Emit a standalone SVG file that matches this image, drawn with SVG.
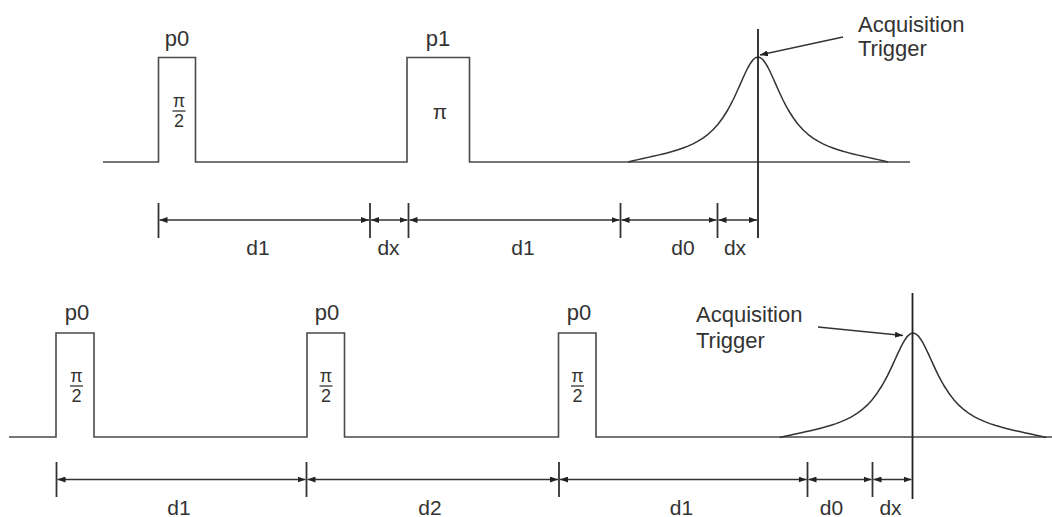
<svg xmlns="http://www.w3.org/2000/svg" width="1052" height="517" viewBox="0 0 1052 517">
<style>
.bg{fill:#ffffff}
.wave{fill:none;stroke:#4a4a4a;stroke-width:1.6}
.curve{fill:none;stroke:#333;stroke-width:1.5;stroke-linejoin:round}
.vline{stroke:#222;stroke-width:1.8}
.tick{stroke:#333;stroke-width:1.8}
.dim{stroke:#333;stroke-width:1.5;fill:none}
.lbl{font-family:"Liberation Sans",Arial,sans-serif;font-size:22px;fill:#333;text-anchor:middle}
.dl{font-family:"Liberation Sans",Arial,sans-serif;font-size:21px;fill:#333;text-anchor:middle}
.frac{font-family:"Liberation Sans",Arial,sans-serif;font-size:18px;fill:#333;text-anchor:middle}
.pi{font-family:"Liberation Sans",Arial,sans-serif;font-size:21px;fill:#333;text-anchor:middle}
.acq{font-family:"Liberation Sans",Arial,sans-serif;font-size:22px;fill:#333}
.bar{stroke:#333;stroke-width:1.3}
</style>
<defs>
<marker id="ah" viewBox="0 0 8 6" refX="8" refY="3" markerWidth="8" markerHeight="6" markerUnits="userSpaceOnUse" orient="auto-start-reverse">
<path d="M0,0 L8,3 L0,6 z" fill="#222"/>
</marker>
<polyline id="peak" points="-130,0 -125,-1.2 -120,-2.36 -115,-3.48 -110,-4.61 -105,-5.72 -100,-6.88 -95,-8.07 -90,-9.35 -85,-10.72 -80,-12.24 -75,-13.95 -70,-15.9 -65,-18.15 -60,-20.8 -55,-23.9 -50,-27.7 -45,-32.25 -40,-37.77 -35,-44.5 -30,-52.5 -27.5,-57.1 -25,-62 -22.5,-67.2 -20,-72.7 -17.5,-78.4 -15,-84 -12.5,-89.5 -10,-94.5 -7.5,-98.8 -5,-102.2 -2.5,-104.3 0,-105 2.5,-104.3 5,-102.2 7.5,-98.8 10,-94.5 12.5,-89.5 15,-84 17.5,-78.4 20,-72.7 22.5,-67.2 25,-62 27.5,-57.1 30,-52.5 35,-44.5 40,-37.77 45,-32.25 50,-27.7 55,-23.9 60,-20.8 65,-18.15 70,-15.9 75,-13.95 80,-12.24 85,-10.72 90,-9.35 95,-8.07 100,-6.88 105,-5.72 110,-4.61 115,-3.48 120,-2.36 125,-1.2 130,0"/>
</defs>
<rect class="bg" x="0" y="0" width="1052" height="517"/>

<g id="top-sequence">
<path class="wave" d="M103,162 H158.5 V57.5 H195.5 V162 H407 V57.5 H469.5 V162 H910"/>
<use href="#peak" class="curve" transform="translate(758,162)"/>
<line class="vline" x1="758" y1="29" x2="758" y2="238"/>
</g>

<g id="top-p0">
<text class="lbl" x="177" y="45.5">p0</text>
<text class="frac" x="179" y="106.5">π</text>
<text class="frac" x="179" y="126.8">2</text>
<line class="bar" x1="172.5" y1="111" x2="185.5" y2="111"/>
</g>
<g id="top-p1">
<text class="lbl" x="438" y="45.5">p1</text>
<text class="pi" x="440" y="118.5">π</text>
</g>
<g id="top-trigger">
<text class="acq" x="858" y="31.5">Acquisition</text>
<text class="acq" x="858" y="56">Trigger</text>
</g>

<g id="bottom-sequence">
<path class="wave" d="M9,437 H56 V333 H94 V437 H307 V333 H344.5 V437 H558.5 V333 H596 V437 H1052"/>
<use href="#peak" class="curve" transform="translate(913,437.5) scale(1.025,0.995)"/>
<line class="vline" x1="912.5" y1="293" x2="912.5" y2="499"/>
</g>
<g id="bottom-p0a">
<text class="lbl" x="77" y="320">p0</text>
<text class="frac" x="76.5" y="381.5">π</text>
<text class="frac" x="76.5" y="401.8">2</text>
<line class="bar" x1="70" y1="386" x2="83" y2="386"/>
</g>
<g id="bottom-p0b">
<text class="lbl" x="327" y="320">p0</text>
<text class="frac" x="326" y="381.5">π</text>
<text class="frac" x="326" y="401.8">2</text>
<line class="bar" x1="319.5" y1="386" x2="332.5" y2="386"/>
</g>
<g id="bottom-p0c">
<text class="lbl" x="579" y="320">p0</text>
<text class="frac" x="577.5" y="381.5">π</text>
<text class="frac" x="577.5" y="401.8">2</text>
<line class="bar" x1="571" y1="386" x2="584" y2="386"/>
</g>
<g id="bottom-trigger">
<text class="acq" x="696" y="322">Acquisition</text>
<text class="acq" x="696" y="348">Trigger</text>
</g>

<g id="connectors">
<line class="dim" x1="843" y1="37" x2="760" y2="55" marker-end="url(#ah)"/>
<line class="dim" x1="818" y1="327" x2="903" y2="335.5" marker-end="url(#ah)"/>
<line class="tick" x1="158.5" y1="203" x2="158.5" y2="238"/>
<line class="tick" x1="370" y1="203" x2="370" y2="238"/>
<line class="tick" x1="408.5" y1="203" x2="408.5" y2="238"/>
<line class="tick" x1="620.5" y1="203" x2="620.5" y2="238"/>
<line class="tick" x1="717.5" y1="203" x2="717.5" y2="238"/>
<line class="dim" x1="159.5" y1="220" x2="369" y2="220" marker-start="url(#ah)" marker-end="url(#ah)"/>
<line class="dim" x1="371" y1="220" x2="407.5" y2="220" marker-start="url(#ah)" marker-end="url(#ah)"/>
<line class="dim" x1="409.5" y1="220" x2="619.5" y2="220" marker-start="url(#ah)" marker-end="url(#ah)"/>
<line class="dim" x1="621.5" y1="220" x2="716.5" y2="220" marker-start="url(#ah)" marker-end="url(#ah)"/>
<line class="dim" x1="718.5" y1="220" x2="757" y2="220" marker-start="url(#ah)" marker-end="url(#ah)"/>
<line class="tick" x1="56.5" y1="462" x2="56.5" y2="497"/>
<line class="tick" x1="306.5" y1="462" x2="306.5" y2="497"/>
<line class="tick" x1="559" y1="462" x2="559" y2="497"/>
<line class="tick" x1="807.5" y1="462" x2="807.5" y2="497"/>
<line class="tick" x1="872.5" y1="462" x2="872.5" y2="497"/>
<line class="dim" x1="57.5" y1="479.5" x2="305.5" y2="479.5" marker-start="url(#ah)" marker-end="url(#ah)"/>
<line class="dim" x1="307.5" y1="479.5" x2="558" y2="479.5" marker-start="url(#ah)" marker-end="url(#ah)"/>
<line class="dim" x1="560" y1="479.5" x2="806.5" y2="479.5" marker-start="url(#ah)" marker-end="url(#ah)"/>
<line class="dim" x1="808.5" y1="479.5" x2="871.5" y2="479.5" marker-start="url(#ah)" marker-end="url(#ah)"/>
<line class="dim" x1="873.5" y1="479.5" x2="911.5" y2="479.5" marker-start="url(#ah)" marker-end="url(#ah)"/>
</g>

<g id="dimension-labels">
<text class="dl" x="258" y="255">d1</text>
<text class="dl" x="388.5" y="255">dx</text>
<text class="dl" x="523" y="255">d1</text>
<text class="dl" x="683" y="255">d0</text>
<text class="dl" x="735" y="255">dx</text>
<text class="dl" x="179" y="515">d1</text>
<text class="dl" x="430" y="515">d2</text>
<text class="dl" x="681.5" y="515">d1</text>
<text class="dl" x="831.5" y="515">d0</text>
<text class="dl" x="890.5" y="515">dx</text>
</g>
</svg>
